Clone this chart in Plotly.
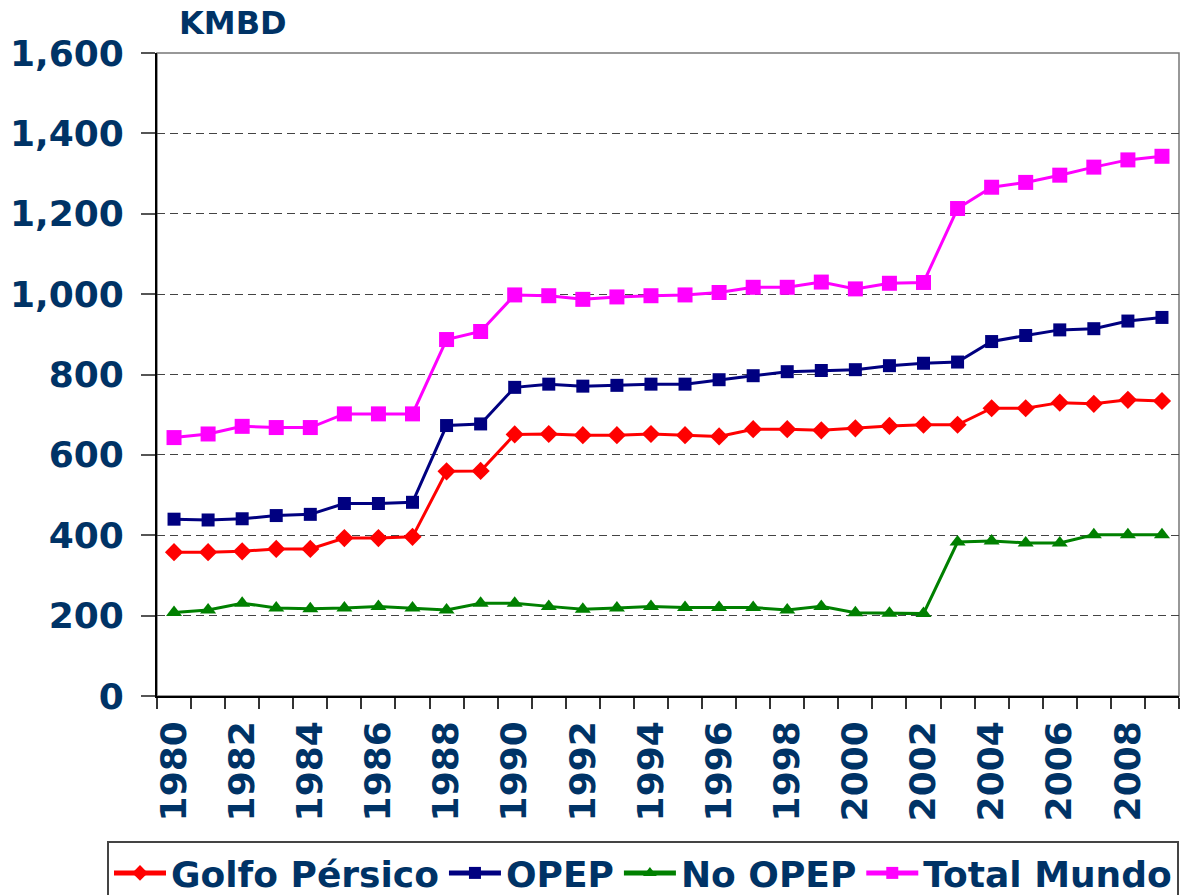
import plotly.graph_objects as go

years = list(range(1980, 2010))
golfo = [358, 358, 360, 366, 366, 393, 393, 396, 559, 560,
         651, 652, 649, 649, 652, 649, 646, 664, 664, 661,
         666, 672, 675, 675, 716, 716, 730, 727, 737, 734]
opep = [440, 438, 441, 449, 452, 479, 479, 482, 673, 677,
        768, 776, 771, 773, 776, 776, 787, 797, 807, 810,
        812, 822, 828, 831, 882, 897, 911, 914, 933, 942]
no_opep = [208, 214, 231, 219, 217, 219, 223, 219, 214, 231,
           231, 223, 216, 219, 223, 220, 220, 220, 214, 223,
           207, 206, 205, 383, 386, 381, 381, 401, 401, 401]
total = [643, 652, 671, 668, 668, 702, 702, 702, 887, 907,
         998, 996, 987, 993, 996, 998, 1004, 1017, 1017, 1030,
         1013, 1027, 1029, 1213, 1266, 1278, 1296, 1316, 1334, 1343]
y_ticks = [0, 200, 400, 600, 800, 1000, 1200, 1400, 1600]
x_label_years = list(range(1980, 2010, 2))

FONT = "DejaVu Sans, Verdana, sans-serif"
TXT = "#003366"
FS = 36

fig = go.Figure()
series = [
    ("Golfo Pérsico", golfo, "#FF0000", "diamond", 14),
    ("OPEP", opep, "#000080", "square", 13),
    ("No OPEP", no_opep, "#008000", "triangle-up", 14),
    ("Total Mundo", total, "#FF00FF", "square", 15),
]
for name, vals, col, sym, sz in series:
    fig.add_trace(go.Scatter(
        x=years, y=vals, name=name, mode="lines+markers",
        line=dict(color=col, width=3),
        marker=dict(color=col, symbol=sym, size=sz, line=dict(width=0)),
    ))

L, R, T, B = 157, 9, 53, 199
plot_h = 895 - T - B

fig.update_layout(
    width=1188, height=895,
    margin=dict(l=L, r=R, t=T, b=B, autoexpand=False),
    plot_bgcolor="white", paper_bgcolor="white",
    font=dict(family=FONT, color=TXT),
    showlegend=True,
    legend=dict(
        orientation="h", x=(107 - L) / (1188 - L - R), y=-(841 - (895 - B)) / plot_h,
        xanchor="left", yanchor="top",
        font=dict(family=FONT, size=FS, color=TXT, weight="bold"),
        bordercolor="#444444", borderwidth=2, bgcolor="white",
        itemwidth=52, itemsizing="constant",
    ),
    xaxis=dict(
        range=[1979.5, 2009.5], tickmode="linear", tick0=1979.5, dtick=1,
        ticks="outside", ticklen=11, tickwidth=1.5, tickcolor="#333333",
        showticklabels=False, showgrid=False, zeroline=False,
        showline=True, linecolor="black", linewidth=2,
    ),
    xaxis2=dict(
        overlaying="x", anchor="y", side="bottom",
        range=[1979.5, 2009.5], tickmode="array", tickvals=x_label_years,
        ticks="", tickangle=-90, ticklabelstandoff=17,
        tickfont=dict(family=FONT, size=FS, color=TXT, weight="bold"),
        showgrid=False, zeroline=False, showline=False,
    ),
    yaxis=dict(
        range=[0, 1600], tickmode="array", tickvals=y_ticks, tickformat=",",
        ticks="outside", ticklen=14, tickwidth=1.5, tickcolor="#555555",
        ticklabelstandoff=10,
        tickfont=dict(family=FONT, size=FS, color=TXT, weight="bold"),
        showgrid=True, gridcolor="#444444", gridwidth=1, griddash="8px,5px",
        zeroline=False, showline=True, linecolor="black", linewidth=2,
    ),
    shapes=[dict(type="rect", xref="paper", yref="paper", x0=0, x1=1, y0=0, y1=1,
                 line=dict(color="#777777", width=1.5), layer="below")],
    annotations=[dict(text="<b>KMBD</b>", xref="paper", yref="paper",
                      x=(177 - L) / (1188 - L - R), y=((895 - B) - 23) / plot_h,
                      xanchor="left", yanchor="middle", showarrow=False,
                      font=dict(family=FONT, size=32, color=TXT))],
)
# invisible helper trace so the label axis (xaxis2) is drawn
fig.add_trace(go.Scatter(x=[1980], y=[0], xaxis="x2", mode="markers",
                         marker=dict(opacity=0), showlegend=False, hoverinfo="skip"))

fig.write_html("out.html", config={"displayModeBar": False},
               post_script="document.body.style.margin='0px';")
